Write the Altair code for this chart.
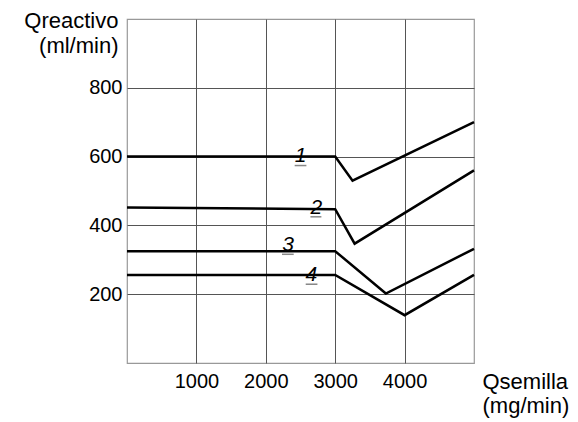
import altair as alt
import pandas as pd

# Curve vertices (Qsemilla mg/min, Qreactivo ml/min)
curve_ids = ["1", "2", "3", "4"]
curve_x = [
    [0, 3000, 3250, 5000],
    [0, 3000, 3280, 5000],
    [0, 3000, 3730, 5000],
    [0, 3000, 4000, 5000],
]
curve_y = [
    [600, 600, 530, 700],
    [452, 447, 347, 560],
    [325, 325, 202, 332],
    [256, 256, 139, 256],
]

# Curve number annotations
label_text = ["1", "2", "3", "4"]
label_x = [2503, 2729, 2320, 2657]
label_y = [583, 433, 325, 238]
underline_x1 = [2416, 2643, 2233, 2575]
underline_x2 = [2585, 2801, 2402, 2744]
underline_y = [574, 425, 316, 229]

x_ticks = [1000, 2000, 3000, 4000]
y_ticks = [200, 400, 600, 800]

rows = []
for cid, xs, ys in zip(curve_ids, curve_x, curve_y):
    for i, (xv, yv) in enumerate(zip(xs, ys)):
        rows.append({"curve": cid, "order": i, "x": xv, "y": yv})
lines_df = pd.DataFrame(rows)

labels_df = pd.DataFrame({
    "t": label_text, "x": label_x, "y": label_y,
    "ux1": underline_x1, "ux2": underline_x2, "uy": underline_y,
})

FONT = "Liberation Sans"

xscale = alt.Scale(domain=[0, 5000], nice=False, zero=False)
yscale = alt.Scale(domain=[0, 1000], nice=False, zero=False)

lines = alt.Chart(lines_df).mark_line(color="black", strokeWidth=2.5).encode(
    x=alt.X("x:Q", scale=xscale, axis=alt.Axis(
        values=x_ticks, format="d", grid=True, ticks=False, domain=False,
        labelFont=FONT, labelFontSize=20, labelColor="black",
        labelPadding=8, labelBaseline="top",
        title=["Qsemilla", "(mg/min)"], titleFont=FONT, titleFontSize=22,
        titleFontWeight="normal", titleColor="black", titleAlign="left",
        titleBaseline="alphabetic", titleX=355, titleY=25, titleLineHeight=24,
        titleAngle=0,
    )),
    y=alt.Y("y:Q", scale=yscale, axis=alt.Axis(
        values=y_ticks, format="d", grid=True, ticks=False, domain=False,
        labelFont=FONT, labelFontSize=20, labelColor="black",
        labelPadding=5,
        title=["Qreactivo", "(ml/min)"], titleFont=FONT, titleFontSize=22,
        titleFontWeight="normal", titleColor="black", titleAlign="right",
        titleBaseline="alphabetic", titleX=-9, titleY=8, titleLineHeight=25,
        titleAngle=0,
    )),
    detail="curve:N",
    order="order:Q",
)

texts = alt.Chart(labels_df).mark_text(
    font=FONT, fontSize=21, fontStyle="italic", color="black",
    align="center", baseline="alphabetic",
).encode(
    x=alt.X("x:Q", scale=xscale),
    y=alt.Y("y:Q", scale=yscale),
    text="t:N",
)

underlines = alt.Chart(labels_df).mark_rule(color="#888888", strokeWidth=1.5).encode(
    x=alt.X("ux1:Q", scale=xscale),
    x2="ux2:Q",
    y=alt.Y("uy:Q", scale=yscale),
)

chart = alt.layer(lines, underlines, texts).properties(
    width=347, height=344,
    autosize=alt.AutoSizeParams(type="none"),
    padding={"left": 127, "top": 19, "right": 104, "bottom": 59},
    background="white",
).configure_view(
    stroke="#999999", strokeWidth=1.2,
).configure_axis(
    gridColor="#555555", gridWidth=1, gridOpacity=1,
)

chart.save("out.html", embed_options={"renderer": "svg", "actions": False})
